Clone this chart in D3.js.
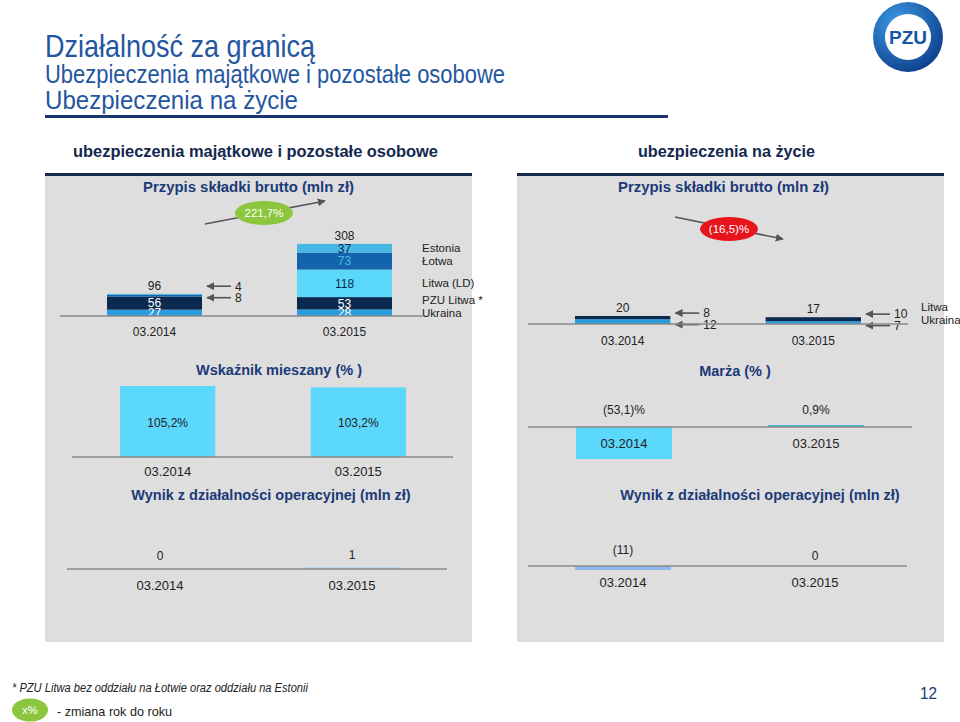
<!DOCTYPE html>
<html>
<head>
<meta charset="utf-8">
<script src="https://cdn.jsdelivr.net/npm/d3@7"></script>
<style>
  body { margin: 0; background: #fff; }
  svg text { font-family: "Liberation Sans", Arial, sans-serif; }
</style>
</head>
<body>
<svg id="slide" width="960" height="722"></svg>
<script>
var periods = ["03.2014", "03.2015"];

// ubezpieczenia majatkowe - przypis skladki brutto (mln zl)
var nonLifeKeys = ["Ukraina", "PZU Litwa *", "Litwa (LD)", "Łotwa", "Estonia"];
var nonLifeUkraina = [27, 28];
var nonLifePzuLitwa = [56, 53];
var nonLifeLitwaLD = [0, 118];
var nonLifeLotwa = [8, 73];
var nonLifeEstonia = [4, 37];
var nonLifeTotal = [96, 308];
var nonLifeChange = "221,7%";

// ubezpieczenia na zycie - przypis skladki brutto (mln zl)
var lifeKeys = ["Ukraina", "Litwa"];
var lifeUkraina = [12, 7];
var lifeLitwa = [8, 10];
var lifeTotal = [20, 17];
var lifeChange = "(16,5)%";

var combinedRatio = [105.2, 103.2];   // wskaznik mieszany %
var lifeMargin = [-53.1, 0.9];        // marza %
var nonLifeOpResult = [0, 1];         // mln zl
var lifeOpResult = [-11, 0];          // mln zl

var sans = '"Liberation Sans", Arial, sans-serif';
var navy = "#1b3a78";

var pl = d3.formatLocale({decimal: ",", thousands: " ", grouping: [3], currency: ["", " zł"]});
var f1 = pl.format(".1f"), f0 = pl.format("d");
function paren(v, f) { return v < 0 ? "(" + f(-v) + ")" : f(v); }

var svg = d3.select("#slide");
var defs = svg.append("defs");

defs.append("marker").attr("id", "head")
  .attr("viewBox", "0 0 10 10").attr("refX", 9).attr("refY", 5)
  .attr("markerWidth", 5).attr("markerHeight", 5).attr("orient", "auto")
  .append("path").attr("d", "M0,0L10,5L0,10Z").attr("fill", "#555");

var rg = defs.append("radialGradient").attr("id", "ring")
  .attr("cx", "35%").attr("cy", "30%").attr("r", "80%");
rg.append("stop").attr("offset", "0%").attr("stop-color", "#3d9ae6");
rg.append("stop").attr("offset", "100%").attr("stop-color", "#0a3a86");

// condensed text: squeeze to the width seen on the slide
function narrowText(x, y, t, size, len, fill, bold, italic) {
  return svg.append("text").attr("x", x).attr("y", y).text(t)
    .attr("font-family", sans).attr("font-size", size).attr("fill", fill)
    .attr("font-weight", bold ? "bold" : null).attr("font-style", italic ? "italic" : null)
    .attr("textLength", len).attr("lengthAdjust", "spacingAndGlyphs");
}

// ---- header
narrowText(45, 57, "Działalność za granicą", 32, 270, "#2456a0");
narrowText(45, 83, "Ubezpieczenia majątkowe i pozostałe osobowe", 25, 460, "#2456a0");
narrowText(45, 109, "Ubezpieczenia na życie", 25, 253, "#2456a0");
svg.append("rect").attr("x", 45).attr("y", 115).attr("width", 623).attr("height", 3).attr("fill", "#1a3570");

// logo
svg.append("circle").attr("cx", 908).attr("cy", 37).attr("r", 35).attr("fill", "url(#ring)");
svg.append("circle").attr("cx", 908).attr("cy", 37).attr("r", 23).attr("fill", "#fff");
svg.append("text").attr("x", 908).attr("y", 44).attr("text-anchor", "middle")
  .attr("font-family", sans).attr("font-weight", "bold").attr("font-size", 19)
  .attr("fill", "#1656a8").text("PZU");

// ---- panels
var panels = [
  {x0: 45, x1: 472, head: "ubezpieczenia majątkowe i pozostałe osobowe", hx: 73, hlen: 365, px: 143},
  {x0: 517, x1: 944, head: "ubezpieczenia na życie", hx: 638, hlen: 177, px: 618}
];
panels.forEach(function(p) {
  narrowText(p.hx, 157, p.head, 16, p.hlen, "#14284f", true);
  svg.append("rect").attr("x", p.x0).attr("y", 175).attr("width", p.x1 - p.x0).attr("height", 467).attr("fill", "#dedede");
  svg.append("rect").attr("x", p.x0).attr("y", 173).attr("width", p.x1 - p.x0).attr("height", 3).attr("fill", "#16294f");
  narrowText(p.px, 192, "Przypis składki brutto (mln zł)", 14.5, 211, navy, true);
});

function chartTitle(x, y, t) {
  svg.append("text").attr("x", x).attr("y", y).attr("text-anchor", "middle")
    .attr("font-family", '"DejaVu Sans", sans-serif').attr("font-weight", "bold")
    .attr("font-size", 14.5).attr("fill", navy).text(t);
}

function catAxis(g, x, base, off, size) {
  var ax = g.append("g").attr("transform", "translate(0," + base + ")")
    .call(d3.axisBottom(x).tickSize(0));
  ax.select(".domain").remove();
  ax.selectAll("text").attr("y", off).attr("dy", "0.35em")
    .attr("font-family", sans).attr("font-size", size).attr("fill", "#222");
}

// ---- stacked premium charts
function stackedChart(o) {
  var rows = periods.map(function(p, i) {
    var r = {period: p};
    o.keys.forEach(function(k, j) { r[k] = o.series[j][i]; });
    return r;
  });
  var series = d3.stack().keys(o.keys)(rows);
  var x = d3.scaleBand().domain(periods).range(o.xRange).paddingInner(0.5);
  var y = d3.scaleLinear().domain(o.yDomain).range(o.yRange);
  var base = y(0);
  var g = svg.append("g");
  var clipId = "clip" + o.id;
  defs.append("clipPath").attr("id", clipId).append("rect")
    .attr("x", 0).attr("y", 0).attr("width", 960).attr("height", base);

  var layer = g.selectAll("g.layer").data(series).enter().append("g")
    .attr("fill", function(d) { return o.colors[d.key]; });
  layer.selectAll("rect").data(function(d) { return d; }).enter().append("rect")
    .attr("x", function(d) { return x(d.data.period); })
    .attr("y", function(d) { return y(d[1]); })
    .attr("width", x.bandwidth())
    .attr("height", function(d) { return y(d[0]) - y(d[1]); });

  // labels inside segments that are tall enough
  var lab = g.append("g").attr("clip-path", "url(#" + clipId + ")");
  series.forEach(function(s) {
    s.forEach(function(d) {
      var h = y(d[0]) - y(d[1]);
      if (h >= 5) {
        lab.append("text").attr("x", x(d.data.period) + x.bandwidth() / 2)
          .attr("y", (y(d[0]) + y(d[1])) / 2).attr("dy", "0.36em")
          .attr("text-anchor", "middle").attr("font-size", 12)
          .attr("fill", o.labelColors[s.key]).text(d[1] - d[0]);
      }
    });
  });

  // callouts for thin segments
  periods.forEach(function(p, i) {
    var prev = null;
    series.forEach(function(s) {
      var d = s[i];
      var v = d[1] - d[0];
      var h = y(d[0]) - y(d[1]);
      if (v > 0 && h < 5) {
        var cy = prev === null ? (y(d[0]) + y(d[1])) / 2 + o.calloutDrop : prev - 11.5;
        prev = cy;
        var end = x(p) + x.bandwidth();
        g.append("line").attr("x1", end + 29).attr("x2", end + 5)
          .attr("y1", cy).attr("y2", cy).attr("stroke", "#555").attr("stroke-width", 1.6)
          .attr("marker-end", "url(#head)");
        g.append("text").attr("x", end + 33).attr("y", cy).attr("dy", "0.36em")
          .attr("font-size", 12).attr("fill", "#222").text(v);
      }
    });
  });

  // totals
  g.selectAll("text.total").data(o.total).enter().append("text")
    .attr("x", function(d, i) { return x(periods[i]) + x.bandwidth() / 2; })
    .attr("y", function(d) { return y(d) - 4; })
    .attr("text-anchor", "middle").attr("font-size", 12).attr("fill", "#222")
    .text(function(d) { return d; });

  g.append("line").attr("x1", o.line[0]).attr("x2", o.line[1])
    .attr("y1", base).attr("y2", base).attr("stroke", "#8a8a8a").attr("stroke-width", 1.3);

  catAxis(g, x, base, o.catOff, 12);

  // legend next to the last bar
  var last = periods.length - 1, ly = null;
  series.forEach(function(s) {
    var c = (y(s[last][0]) + y(s[last][1])) / 2 + o.legendDrop;
    ly = ly === null ? c : Math.min(c, ly - 12.5);
    g.append("text").attr("x", o.legendX).attr("y", ly).attr("dy", "0.36em")
      .attr("font-size", 11.5).attr("fill", "#222").text(s.key);
  });
}

stackedChart({
  id: "nl", keys: nonLifeKeys,
  series: [nonLifeUkraina, nonLifePzuLitwa, nonLifeLitwaLD, nonLifeLotwa, nonLifeEstonia],
  total: nonLifeTotal,
  colors: {"Ukraina": "#2a9de0", "PZU Litwa *": "#0c2a4f", "Litwa (LD)": "#5bd7fb", "Łotwa": "#1464ad", "Estonia": "#48b8e4"},
  labelColors: {"Ukraina": "#fff", "PZU Litwa *": "#fff", "Litwa (LD)": "#0c2a4f", "Łotwa": "#4ab8e4", "Estonia": "#0c2a4f"},
  xRange: [107, 392], yDomain: [0, 330], yRange: [316, 239],
  line: [60, 423], catOff: 16, legendX: 422, legendDrop: 0, calloutDrop: 2
});

stackedChart({
  id: "l", keys: lifeKeys,
  series: [lifeUkraina, lifeLitwa],
  total: lifeTotal,
  colors: {"Ukraina": "#2a9de0", "Litwa": "#0c2a4f"},
  labelColors: {"Ukraina": "#fff", "Litwa": "#fff"},
  xRange: [575, 861], yDomain: [0, 20], yRange: [324, 316],
  line: [528, 908], catOff: 17, legendX: 921, legendDrop: -3, calloutDrop: 3
});

// change bubbles
function bubble(x1, y1, x2, y2, cx, cy, fill, t) {
  svg.append("line").attr("x1", x1).attr("y1", y1).attr("x2", x2).attr("y2", y2)
    .attr("stroke", "#555").attr("stroke-width", 1.6).attr("marker-end", "url(#head)");
  svg.append("ellipse").attr("cx", cx).attr("cy", cy).attr("rx", 29).attr("ry", 12).attr("fill", fill);
  svg.append("text").attr("x", cx).attr("y", cy).attr("dy", "0.36em").attr("text-anchor", "middle")
    .attr("font-size", 11.5).attr("fill", "#fff").text(t);
}
bubble(205, 224, 325, 201, 264, 213, "#8cc63f", nonLifeChange);
bubble(675, 217, 783, 239, 729, 229, "#e8141c", lifeChange);

// ---- simple bar charts
function barChart(o) {
  var x = d3.scaleBand().domain(periods).range(o.xRange).paddingInner(0.5);
  var y = d3.scaleLinear().domain(o.yDomain).range(o.yRange);
  var base = y(0);
  var g = svg.append("g");
  g.selectAll("rect").data(o.values).enter().append("rect")
    .filter(function(d) { return d !== 0; })
    .attr("x", function(d) { return x(periods[o.values.indexOf(d)]); })
    .attr("y", function(d) { return d > 0 ? base - Math.max(base - y(d), o.minH) : base; })
    .attr("width", x.bandwidth())
    .attr("height", function(d) { return Math.max(Math.abs(y(d) - base), o.minH); })
    .attr("fill", function(d) { return o.colors[o.values.indexOf(d)]; });
  g.append("line").attr("x1", o.line[0]).attr("x2", o.line[1])
    .attr("y1", base).attr("y2", base).attr("stroke", "#8a8a8a").attr("stroke-width", 1.3);
  g.selectAll("text.val").data(o.values).enter().append("text")
    .attr("x", function(d, i) { return x(periods[i]) + x.bandwidth() / 2; })
    .attr("y", function(d, i) { return o.labelY(d, i, y, base); })
    .attr("dy", "0.36em").attr("text-anchor", "middle")
    .attr("font-size", 12).attr("fill", "#222").text(o.fmt);
  catAxis(g, x, base, o.catOff, 13);
}

chartTitle(279, 375, "Wskaźnik mieszany (% )");
barChart({
  values: combinedRatio, colors: ["#5bd8fc", "#5bd8fc"], minH: 0,
  xRange: [120, 406], yDomain: [0, 105.2], yRange: [457, 386],
  line: [72, 453], catOff: 14,
  labelY: function(d, i, y, base) { return (y(d) + base) / 2 + 1; },
  fmt: function(d) { return f1(d) + "%"; }
});

chartTitle(735, 376, "Marża (% )");
barChart({
  values: lifeMargin, colors: ["#5bd8fc", "#4ab8e0"], minH: 2,
  xRange: [576, 864], yDomain: [-53.1, 0], yRange: [459, 427],
  line: [528, 912], catOff: 16,
  labelY: function(d, i, y, base) { return base - 17; },
  fmt: function(d) { return paren(d, f1) + "%"; }
});

chartTitle(271, 500, "Wynik z działalności operacyjnej (mln zł)");
barChart({
  values: nonLifeOpResult, colors: ["#a9c8ea", "#9cc6ee"], minH: 1.5,
  xRange: [112, 400], yDomain: [0, 1], yRange: [569, 567.5],
  line: [67, 447], catOff: 16,
  labelY: function(d, i, y, base) { return Math.min(y(d), base) - 13; },
  fmt: function(d) { return paren(d, f0); }
});

chartTitle(760, 500, "Wynik z działalności operacyjnej (mln zł)");
barChart({
  values: lifeOpResult, colors: ["#8db9ee", "#8db9ee"], minH: 1.5,
  xRange: [575, 863], yDomain: [-11, 0], yRange: [570, 566],
  line: [528, 907], catOff: 16,
  labelY: function(d, i, y, base) { return base - (d < 0 ? 16 : 10); },
  fmt: function(d) { return paren(d, f0); }
});

// ---- footer
narrowText(12, 692, "* PZU Litwa bez oddziału na Łotwie oraz oddziału na Estonii", 12, 296, "#222", false, true);
svg.append("ellipse").attr("cx", 30).attr("cy", 710).attr("rx", 18).attr("ry", 11.5).attr("fill", "#8cc63f");
svg.append("text").attr("x", 30).attr("y", 710).attr("dy", "0.36em").attr("text-anchor", "middle")
  .attr("font-family", sans).attr("font-size", 11).attr("fill", "#fff").text("x%");
narrowText(57, 716, "- zmiana rok do roku", 13, 115, "#222");
narrowText(920, 699, "12", 17, 17, navy);
</script>
</body>
</html>
